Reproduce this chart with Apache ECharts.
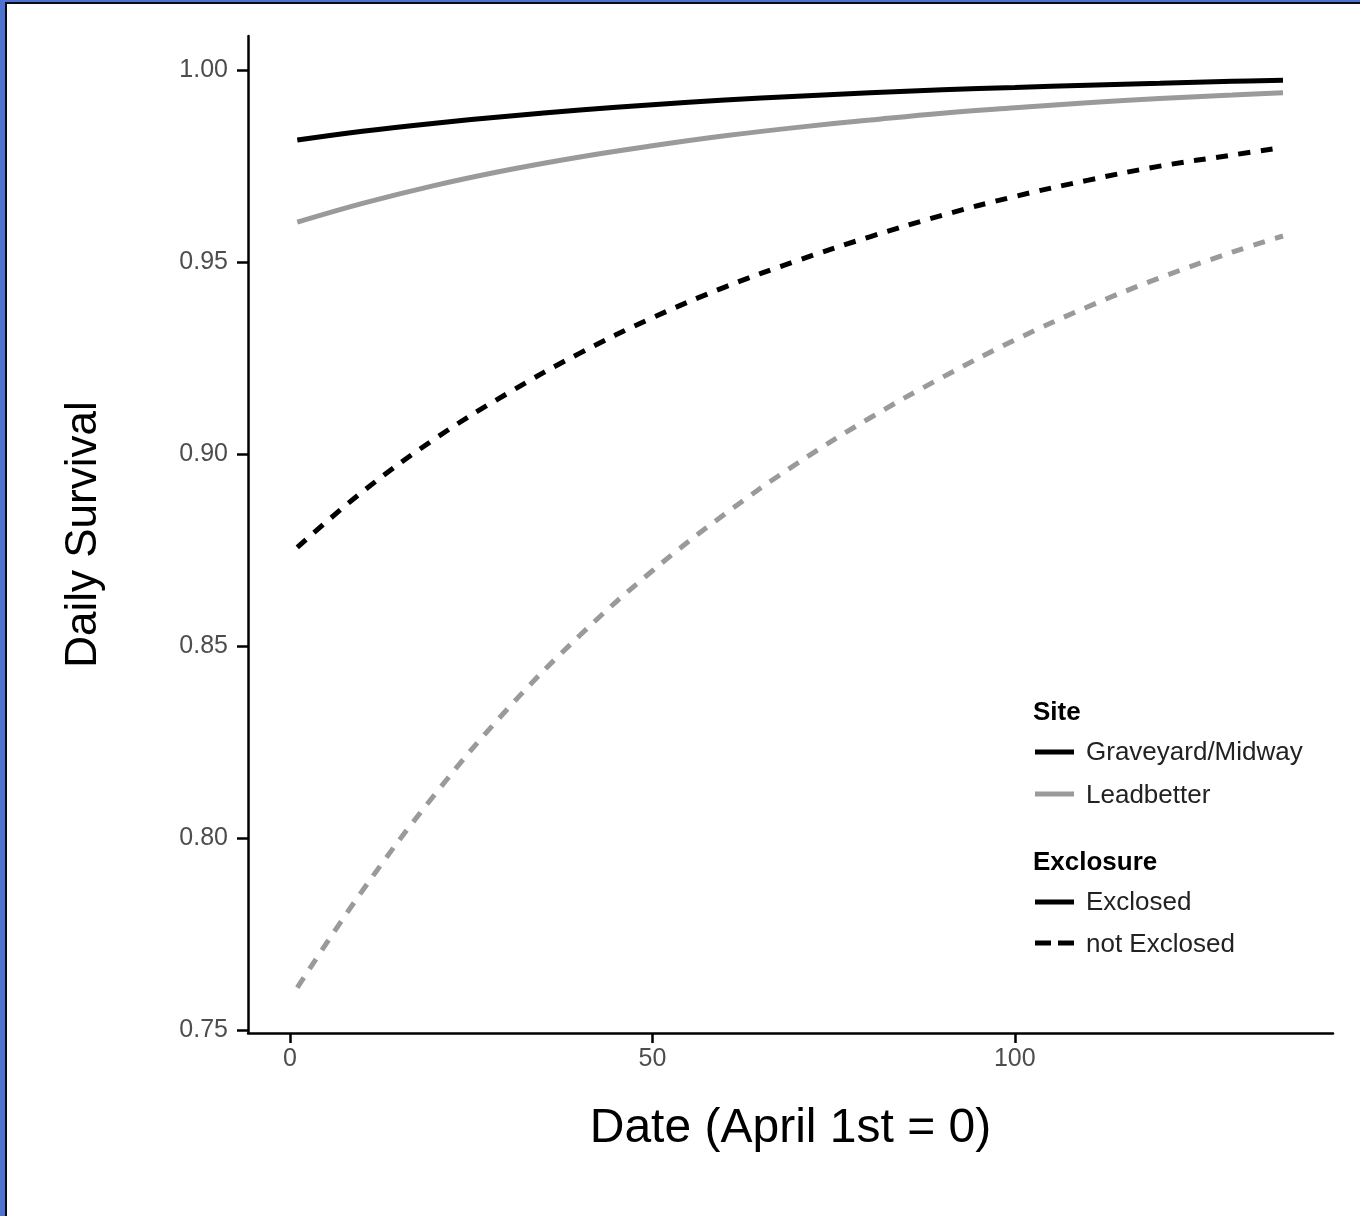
<!DOCTYPE html>
<html>
<head>
<meta charset="utf-8">
<script src="https://cdn.jsdelivr.net/npm/echarts@6/dist/echarts.min.js"></script>
<style>
  html, body { margin: 0; padding: 0; background: #fff; }
  #chart { width: 1360px; height: 1216px; }
</style>
</head>
<body>
<div id="chart"></div>
<script>
// ---- data ----
const days = [1, 10, 20, 30, 40, 50, 60, 70, 80, 90, 100, 110, 120, 130, 137];
const graveyardExclosed    = [0.9818, 0.9841, 0.9862, 0.9880, 0.9896, 0.9910, 0.9922, 0.9932, 0.9941, 0.9949, 0.9955, 0.9961, 0.9966, 0.9971, 0.9974];
const leadbetterExclosed   = [0.9604, 0.9653, 0.9700, 0.9740, 0.9774, 0.9803, 0.9829, 0.9851, 0.9870, 0.9888, 0.9902, 0.9915, 0.9926, 0.9935, 0.9941];
const graveyardNotExclosed = [0.8757, 0.8902, 0.9040, 0.9158, 0.9263, 0.9355, 0.9435, 0.9504, 0.9566, 0.9622, 0.9671, 0.9713, 0.9750, 0.9779, 0.9799];
const leadbetterNotExclosed= [0.7610, 0.7863, 0.8114, 0.8336, 0.8528, 0.8696, 0.8844, 0.8976, 0.9094, 0.9200, 0.9297, 0.9383, 0.9459, 0.9526, 0.9568];
const xTicks = [0, 50, 100];
const yTicks = [0.75, 0.80, 0.85, 0.90, 0.95, 1.00];
const siteLabels = ['Graveyard/Midway', 'Leadbetter'];
const exclosureLabels = ['Exclosed', 'not Exclosed'];

const BLACK = '#000000';
const GREY = '#9a9a9a';
const FONT = 'Liberation Sans, Arial, Helvetica, sans-serif';

function pairs(ys) { return days.map((d, i) => [d, ys[i]]); }

function lineSeries(name, ys, color, dashed) {
  return {
    name: name,
    type: 'line',
    data: pairs(ys),
    showSymbol: false,
    symbol: 'none',
    smooth: 0.4,
    lineStyle: { color: color, width: 5, type: dashed ? [12, 10.5] : 'solid', cap: 'butt' },
    emphasis: { disabled: true },
    silent: true,
    z: dashed ? 3 : 4
  };
}

const legendX = 1033, legendItemX = 1086;
function legendLine(y, color, dashed) {
  return {
    type: 'line',
    shape: { x1: 1035, y1: y, x2: 1074, y2: y },
    style: { stroke: color, lineWidth: 5, lineDash: dashed ? [16, 7] : null },
    z: 10
  };
}
function legendText(x, y, text, bold) {
  return {
    type: 'text',
    x: x, y: y,
    style: {
      text: text,
      fill: bold ? '#000' : '#222',
      font: (bold ? 'bold ' : '') + '26px ' + FONT,
      textVerticalAlign: 'middle',
      textAlign: 'left'
    },
    z: 10
  };
}

const chart = echarts.init(document.getElementById('chart'), null, { renderer: 'canvas' });
chart.setOption({
  animation: false,
  backgroundColor: '#ffffff',
  grid: { left: 248, right: 27, top: 36, bottom: 183, containLabel: false },
  xAxis: {
    type: 'value',
    min: -5.8,
    max: 143.9,
    name: 'Date (April 1st = 0)',
    nameLocation: 'middle',
    nameGap: 72,
    nameTextStyle: { fontFamily: FONT, fontSize: 48, color: '#000' },
    axisLine: { show: true, onZero: false, lineStyle: { color: '#000', width: 2.5 } },
    axisTick: { show: true, length: 10, lineStyle: { color: '#000', width: 2.5 }, customValues: xTicks },
    axisLabel: { fontFamily: FONT, fontSize: 25, color: '#4d4d4d', margin: 14, customValues: xTicks },
    splitLine: { show: false }
  },
  yAxis: {
    type: 'value',
    min: 0.7492,
    max: 1.0089,
    name: 'Daily Survival',
    nameLocation: 'middle',
    nameRotate: 90,
    nameGap: 142,
    nameTextStyle: { fontFamily: FONT, fontSize: 44, color: '#000' },
    axisLine: { show: true, onZero: false, lineStyle: { color: '#000', width: 2.5 } },
    axisTick: { show: true, length: 11, lineStyle: { color: '#000', width: 2.5 }, customValues: yTicks },
    axisLabel: { fontFamily: FONT, fontSize: 25, color: '#4d4d4d', margin: 20, customValues: yTicks,
      formatter: v => v.toFixed(2) },
    splitLine: { show: false }
  },
  series: [
    lineSeries('Leadbetter – not Exclosed', leadbetterNotExclosed, GREY, true),
    lineSeries('Graveyard/Midway – not Exclosed', graveyardNotExclosed, BLACK, true),
    lineSeries('Leadbetter – Exclosed', leadbetterExclosed, GREY, false),
    lineSeries('Graveyard/Midway – Exclosed', graveyardExclosed, BLACK, false)
  ],
  graphic: [
    // legend
    legendText(legendX, 713, 'Site', true),
    legendLine(752, BLACK, false), legendText(legendItemX, 753, siteLabels[0], false),
    legendLine(794, GREY, false), legendText(legendItemX, 796, siteLabels[1], false),
    legendText(legendX, 863, 'Exclosure', true),
    legendLine(902, BLACK, false), legendText(legendItemX, 903, exclosureLabels[0], false),
    legendLine(943, BLACK, true), legendText(legendItemX, 945, exclosureLabels[1], false),
    // slide frame
    { type: 'rect', shape: { x: 0, y: 0, width: 5, height: 1216 }, style: { fill: '#4f73d2' }, z: 20 },
    { type: 'rect', shape: { x: 0, y: 0, width: 1360, height: 2 }, style: { fill: '#4f73d2' }, z: 20 },
    { type: 'rect', shape: { x: 5, y: 2, width: 2, height: 1214 }, style: { fill: '#0a0a14' }, z: 20 },
    { type: 'rect', shape: { x: 5, y: 2, width: 1355, height: 2 }, style: { fill: '#0a0a14' }, z: 20 }
  ]
});
</script>
</body>
</html>
